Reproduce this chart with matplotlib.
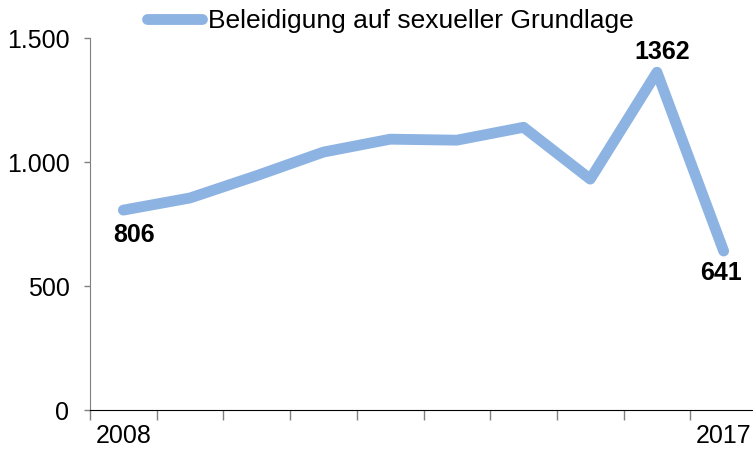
import matplotlib.pyplot as plt
from matplotlib.ticker import FuncFormatter, FixedLocator

# Data
years = [2008, 2009, 2010, 2011, 2012, 2013, 2014, 2015, 2016, 2017]
values = [806, 855, 945, 1040, 1092, 1088, 1140, 931, 1362, 641]
series_name = 'Beleidigung auf sexueller Grundlage'
# label offsets (points) for the annotated points
labelled = {0: (8, -9.5), 8: (4, 6), 9: (-2, -7.5)}

plt.rcParams['font.family'] = ['Liberation Sans', 'DejaVu Sans']

fig = plt.figure(figsize=(7.53, 4.5), dpi=100)
ax = fig.add_axes([90 / 753, 40 / 450, 667 / 753, 372 / 450])

x = list(range(len(years)))
line, = ax.plot(x, values, color='#8DB3E2', linewidth=7.8,
                solid_capstyle='round', solid_joinstyle='round',
                label=series_name)

# Data labels
for i, off in labelled.items():
    ax.annotate(str(values[i]), (x[i], values[i]), xytext=off,
                textcoords='offset points', ha='center',
                va='bottom' if off[1] > 0 else 'top',
                fontsize=18, fontweight='bold')

ax.set_xlim(-0.5, len(years) - 0.5)
ax.set_ylim(0, 1500)

# y axis
ax.set_yticks([0, 500, 1000, 1500])
ax.yaxis.set_major_formatter(FuncFormatter(lambda v, p: f'{int(v):,}'.replace(',', '.')))
ax.tick_params(axis='y', direction='out', length=4.3, width=1, color='#808080',
               labelsize=18, pad=10.5)

# x axis: labels at category centres, tick marks at boundaries
ax.set_xticks(x)
ax.set_xticklabels([str(y) if i in (0, len(years) - 1) else '' for i, y in enumerate(years)])
ax.tick_params(axis='x', which='major', length=0, labelsize=18, pad=10)
ax.xaxis.set_minor_locator(FixedLocator([i - 0.5 for i in range(len(years) + 1)]))
ax.tick_params(axis='x', which='minor', direction='out', length=7, width=1, color='#808080')

for s in ['top', 'right']:
    ax.spines[s].set_visible(False)
ax.spines['left'].set_color('#808080')
ax.spines['bottom'].set_color('black')

fig.legend(handles=[line], loc='center', bbox_to_anchor=(0.518, 0.953),
           frameon=False, fontsize=19, handlelength=2.1, handletextpad=0.2)

fig.savefig('out.png', dpi=100)
